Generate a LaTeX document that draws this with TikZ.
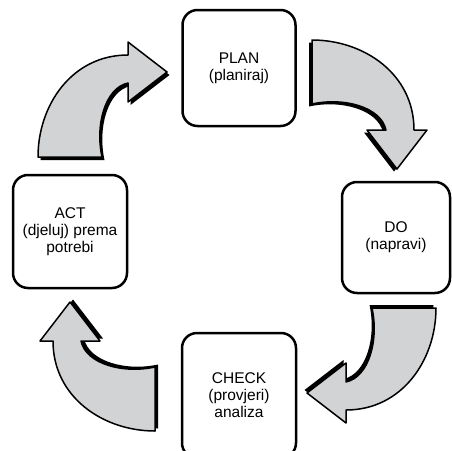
\documentclass[tikz,border=0pt]{standalone}
\usepackage{fontspec}
\setmainfont{Liberation Sans}
\definecolor{arrowgrey}{RGB}{210,211,213}
\tikzset{
  stagebox/.style={draw=black, line width=2.5pt, rounded corners=15pt, align=center,
    font=\fontsize{15.5}{17}\selectfont, inner sep=0pt},
  arrowshape/.style={fill=arrowgrey, draw=black, line width=1.5pt, line join=round},
  arrowshadow/.style={fill=black}
}
\newcommand\cyclearrow[1]{%
\begin{scope}[#1]
\begin{scope}[shift={(2.5,3)}]
\fill[arrowshadow] (38,157) .. controls (38,105) and (72,55) .. (128,55) -- (128,42) -- (167,72) -- (128,102) -- (128,83) .. controls (105,88) and (95,125) .. (102,157) -- cycle;
\end{scope}
\draw[arrowshape] (38,157) .. controls (38,105) and (72,55) .. (128,55) -- (128,42) -- (167,72) -- (128,102) -- (128,83) .. controls (105,88) and (95,125) .. (102,157) -- cycle;
\end{scope}}
\begin{document}
\begin{tikzpicture}[x=1pt, y=-1pt]
\clip (0,0) rectangle (452,450);
\fill[white] (0,0) rectangle (452,450);
\node[stagebox, minimum width=113pt, minimum height=116pt] (plan) at (239,68) {PLAN\\(planiraj)};
\node[stagebox, minimum width=108pt, minimum height=111pt] (do) at (396,237.5) {DO\\(napravi)};
\node[stagebox, minimum width=114pt, minimum height=113pt] (act) at (70,231.5) {ACT\\(djeluj) prema\\potrebi};
\node[stagebox, minimum width=114pt, minimum height=125pt] (check) at (239,395.5) {CHECK\\(provjeri)\\analiza};
\cyclearrow{}
\cyclearrow{rotate around={-90:(233.5,235.5)}}
\cyclearrow{shift={(7,-6)}, rotate around={180:(233.5,235.5)}}
\cyclearrow{rotate around={90:(233.5,235.5)}}
\end{tikzpicture}
\end{document}
